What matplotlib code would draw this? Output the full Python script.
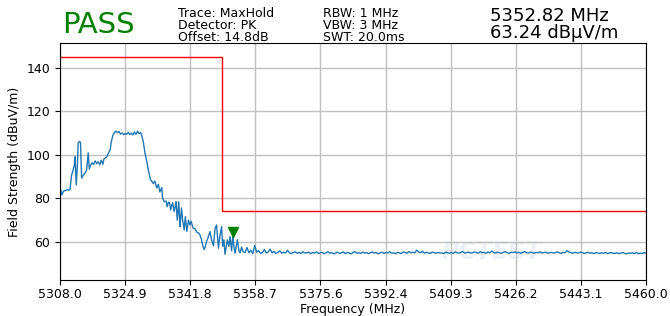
import numpy as np
import matplotlib
matplotlib.use("Agg")
import matplotlib.pyplot as plt

# spectrum sweep, signal part read point by point
sig_freq = [5308.0, 5308.3, 5308.5, 5308.9, 5309.3, 5309.8, 5310.3, 5310.6, 5311.0, 5311.4,
            5311.7, 5311.9, 5312.2, 5312.5, 5312.7, 5313.0, 5313.3, 5313.6, 5314.0, 5314.5,
            5314.9, 5315.3, 5315.6, 5315.9, 5316.3, 5316.7, 5317.1, 5317.5, 5317.9, 5318.3,
            5318.7, 5319.1, 5319.4, 5319.8, 5320.2, 5320.6, 5321.0, 5321.3, 5321.7, 5322.1,
            5322.5, 5322.9, 5323.3, 5323.7, 5324.1, 5324.5, 5324.9, 5325.3, 5325.7, 5326.1,
            5326.5, 5326.9, 5327.3, 5327.7, 5328.1, 5328.5, 5328.9, 5329.2, 5329.6, 5330.05,
            5330.5, 5330.9, 5331.5, 5332.0, 5332.2, 5332.6, 5333.1, 5333.5, 5333.9, 5334.4,
            5334.6, 5335.0, 5335.5, 5335.8, 5336.1, 5336.4, 5336.7, 5337.0, 5337.2, 5337.6,
            5337.9, 5338.1, 5338.4, 5338.6, 5338.8, 5339.1, 5339.3, 5339.5, 5339.8, 5340.2,
            5340.5, 5340.9, 5341.3, 5341.7, 5342.0, 5342.5, 5343.0, 5343.5, 5344.0, 5344.3,
            5344.7, 5345.1, 5345.4, 5345.7, 5346.0, 5346.4, 5346.9, 5347.3, 5347.8, 5348.2,
            5348.6, 5349.1, 5349.4, 5349.9, 5350.2, 5350.5, 5350.8, 5351.1, 5351.4, 5351.8,
            5352.1, 5352.5, 5352.82, 5353.1, 5353.4, 5354.0, 5354.4, 5354.7, 5355.1, 5355.5]
sig_level = [85.0, 83.0, 81.6, 83.4, 83.6, 84.0, 83.8, 84.3, 90.8, 93.0,
             95.4, 99.2, 86.2, 95.0, 105.6, 106.2, 105.8, 89.4, 90.6, 91.7,
             93.0, 101.0, 93.5, 95.2, 96.4, 95.6, 97.3, 96.0, 96.9, 95.5,
             97.6, 95.7, 98.2, 98.6, 99.3, 101.0, 102.4, 106.0, 109.0, 110.3,
             111.0, 110.2, 110.8, 109.6, 110.1, 109.3, 109.9, 109.5, 110.4, 109.4,
             110.0, 109.2, 110.6, 109.5, 110.9, 109.8, 110.3, 109.0, 106.0, 100.8,
             97.0, 93.0, 88.5, 87.5, 86.8, 88.0, 84.8, 86.5, 83.0, 85.0,
             80.2, 78.5, 78.8, 76.2, 78.3, 78.0, 74.7, 77.0, 78.0, 74.0,
             76.5, 78.5, 70.0, 74.0, 78.5, 67.0, 71.0, 75.6, 70.0, 65.5,
             71.6, 64.8, 70.0, 67.8, 69.5, 66.4, 66.0, 64.5, 64.0, 63.2,
             61.0, 57.8, 56.5, 58.0, 60.2, 62.0, 64.8, 61.0, 58.2, 66.0,
             67.8, 57.1, 62.0, 67.0, 58.0, 61.0, 54.3, 57.5, 61.0, 58.0,
             62.5, 55.9, 63.24, 58.0, 54.8, 61.0, 56.0, 55.0, 57.6, 55.4]

# noise floor, 0.5 MHz steps from 5356 to 5460
floor_level = [55.2, 57.4, 55.0, 56.2, 54.6, 58.4, 55.3, 56.0, 54.8, 55.1, 56.5, 54.9, 55.4, 56.7, 55.0, 55.6, 54.7, 55.2, 55.9, 54.8,
               55.3, 54.9, 56.2, 55.0, 54.6, 55.2, 55.4, 54.8, 55.1, 54.7, 55.5, 54.9, 55.0, 55.3, 54.6, 55.1, 54.9, 55.4, 54.7, 55.0,
               55.2, 54.6, 55.0, 55.5, 54.8, 55.1, 54.5, 54.9, 55.3, 54.7, 55.0, 55.4, 54.6, 55.2, 54.9, 54.5, 55.1, 55.6, 54.8, 55.0,
               54.7, 55.3, 54.9, 55.1, 54.6, 55.0, 55.4, 54.8, 55.2, 54.5, 55.0, 55.3, 54.7, 55.1, 54.9, 55.5, 54.8, 55.0, 54.6, 55.2,
               55.0, 54.7, 55.4, 55.1, 54.8, 55.6, 55.0, 55.3, 54.9, 56.2, 55.4, 55.0, 55.7, 54.8, 55.2, 55.0, 54.7, 55.3, 55.1, 54.8,
               55.2, 54.9, 55.0, 54.6, 55.3, 55.0, 54.8, 55.1, 54.7, 55.4, 55.0, 54.9, 55.2, 55.6, 54.8, 55.1, 55.3, 54.9, 55.0, 55.4,
               55.1, 54.8, 55.5, 55.0, 55.2, 54.7, 55.4, 55.0, 55.8, 55.1, 54.9, 55.3, 55.0, 54.8, 55.2, 55.5, 55.0, 54.7, 55.3, 55.1,
               55.4, 55.0, 55.2, 54.8, 55.1, 55.6, 55.0, 54.9, 55.3, 55.1, 54.8, 55.2, 55.0, 55.5, 54.9, 55.1, 55.3, 54.8, 55.0, 55.2,
               54.9, 55.1, 55.4, 55.0, 54.7, 55.2, 55.0, 56.0, 55.3, 55.1, 54.8, 55.2, 55.0, 54.9, 55.3, 55.1, 54.7, 55.0, 55.2, 54.8,
               55.0, 54.6, 55.1, 54.9, 54.7, 55.0, 54.8, 55.2, 54.6, 54.9, 55.1, 54.7, 54.8, 55.0, 54.6, 54.9, 55.1, 54.7, 54.5, 54.9,
               54.8, 55.0, 54.6, 55.2, 54.5, 54.9, 54.6, 55.1, 54.7]
floor_freq = 5356.0 + 0.5 * np.arange(len(floor_level))

# limit line (step)
limit_freq = [5308.0, 5350.0, 5350.0, 5460.0]
limit_level = [145.0, 145.0, 74.0, 74.0]

marker_freq = 5352.82
marker_level = 63.24

f_start, f_stop = 5308.0, 5460.0
y_ticks = [60, 80, 100, 120, 140]

freq = np.concatenate([sig_freq, floor_freq])
level = np.concatenate([sig_level, floor_level])

plt.rcParams["font.size"] = 9

fig = plt.figure(figsize=(6.7, 3.16), dpi=100)
ax = fig.add_axes([0.0896, 0.114, 0.8746, 0.75])

ax.plot(freq, level, color="#1f77b4", linewidth=1.0)
ax.plot(limit_freq, limit_level, color="red", linewidth=1.0)
ax.plot(marker_freq, marker_level + 1.5, marker="v", color="green", markersize=7)

ax.set_xlim(f_start, f_stop)
ax.set_ylim(42.5, 151.5)
xt = np.linspace(f_start, f_stop, 10)
ax.set_xticks(xt)
ax.set_xticklabels([f"{v:.1f}" for v in xt])
ax.set_yticks(y_ticks)
ax.tick_params(labelsize=9)
ax.tick_params(axis="x", pad=2.5)
ax.grid(True, color="#c0c0c0", linewidth=1.0)
ax.set_xlabel("Frequency (MHz)", fontsize=9, labelpad=1)
ax.set_ylabel("Field Strength (dBuV/m)", fontsize=9)

# faint watermark
ax.text(5420, 55.5, "PCTEST", fontsize=17, fontweight="bold", style="italic",
        color="#b8c4d8", alpha=0.25, ha="center", va="center", zorder=0)

fig.text(0.092, 0.896, "PASS", color="green", fontsize=21, va="baseline")
fig.text(0.266, 0.978, "Trace: MaxHold\nDetector: PK\nOffset: 14.8dB",
         fontsize=9, va="top", linespacing=0.88)
fig.text(0.482, 0.978, "RBW: 1 MHz\nVBW: 3 MHz\nSWT: 20.0ms",
         fontsize=9, va="top", linespacing=0.88)
fig.text(0.731, 0.978, "5352.82 MHz\n63.24 dB\u03bcV/m",
         fontsize=13, va="top", linespacing=0.9)

fig.savefig("out.png", dpi=100)
